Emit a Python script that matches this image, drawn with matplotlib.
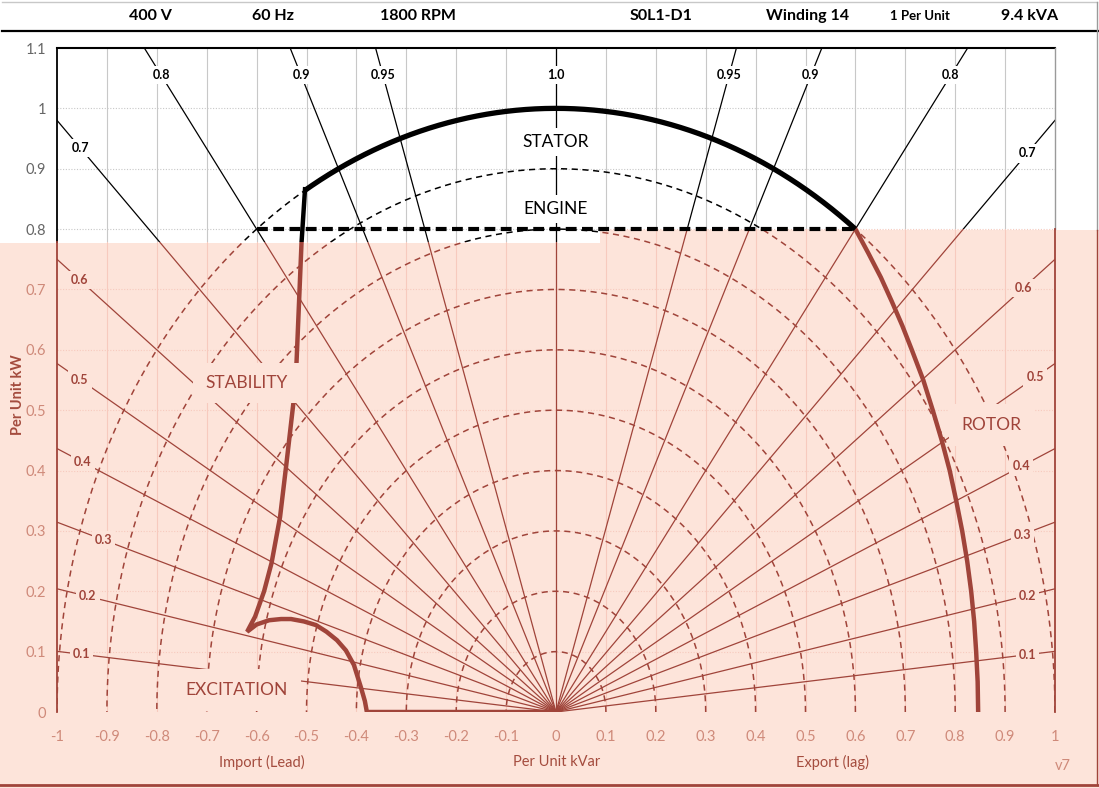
import numpy as np
import matplotlib
matplotlib.use('Agg')
import matplotlib.pyplot as plt
from matplotlib.patches import Polygon
from matplotlib.lines import Line2D

plt.rcParams['font.family'] = ['Lato', 'DejaVu Sans']

# ---- data ----
header_items = ['400 V', '60 Hz', '1800 RPM', 'S0L1-D1', 'Winding 14', '1 Per Unit', '9.4 kVA']
pf_values = [0.1, 0.2, 0.3, 0.4, 0.5, 0.6, 0.7, 0.8, 0.9, 0.95, 1.0]
pf_labels = ['0.1', '0.2', '0.3', '0.4', '0.5', '0.6', '0.7', '0.8', '0.9', '0.95', '1.0']
circle_radii = [0.1, 0.2, 0.3, 0.4, 0.5, 0.6, 0.7, 0.8, 0.9, 1.0]
stator_radius = 1.0
engine_kw = 0.8
engine_kvar = [-0.6, 0.6]

stability_kvar = [-0.503, -0.510, -0.520, -0.525, -0.540, -0.553, -0.570, -0.585, -0.603, -0.619,
                  -0.600, -0.575, -0.551, -0.531, -0.505, -0.481, -0.460, -0.439, -0.421, -0.405,
                  -0.391, -0.383, -0.379, 0.0]
stability_kw = [0.866, 0.777, 0.579, 0.521, 0.413, 0.323, 0.247, 0.200, 0.158, 0.133,
                0.145, 0.152, 0.154, 0.154, 0.150, 0.144, 0.133, 0.119, 0.102, 0.078,
                0.041, 0.018, 0.0, 0.0]

rotor_kvar = [0.600, 0.626, 0.651, 0.673, 0.694, 0.713, 0.736, 0.755, 0.773, 0.789,
              0.802, 0.814, 0.824, 0.832, 0.838, 0.842, 0.845, 0.846]
rotor_kw = [0.80, 0.76, 0.72, 0.68, 0.64, 0.60, 0.55, 0.50, 0.45, 0.40,
            0.35, 0.30, 0.25, 0.20, 0.15, 0.10, 0.05, 0.0]

x_ticks = np.round(np.arange(-10, 11) / 10, 1)
y_ticks = np.round(np.arange(0, 12) / 10, 1)

# ---- style ----
RED = '#a0443a'
PINK = '#fde4da'
TICK_RED = '#cf8a7a'
LABEL_RED = '#a44c3e'
GRID_TOP = '#c8c8c8'
GRID_LOW = '#f7cabe'
PINK_TOP_LEFT = 0.778   # pink band top (kW) left of the step
PINK_TOP_RIGHT = 0.8
STEP_X = 0.088

fig = plt.figure(figsize=(10.99, 7.88), dpi=100)
ax = fig.add_axes([57 / 1099, 1 - 712 / 788, 998 / 1099, 664 / 788])
ax.set_facecolor('none')

# pink band behind the lower part of the figure
fy1 = 1 - 243 / 788
fy2 = 1 - 230 / 788
fx = 600 / 1099
fig.add_artist(Polygon([(0, 0), (1, 0), (1, fy2), (fx, fy2), (fx, fy1), (0, fy1)],
                       closed=True, transform=fig.transFigure, facecolor=PINK,
                       edgecolor='none', zorder=-5))

lower_clip = Polygon([(-1.3, -0.3), (1.3, -0.3), (1.3, PINK_TOP_RIGHT), (STEP_X, PINK_TOP_RIGHT),
                      (STEP_X, PINK_TOP_LEFT), (-1.3, PINK_TOP_LEFT)], transform=ax.transData)
upper_clip = Polygon([(-1.3, PINK_TOP_LEFT), (STEP_X, PINK_TOP_LEFT), (STEP_X, PINK_TOP_RIGHT),
                      (1.3, PINK_TOP_RIGHT), (1.3, 1.5), (-1.3, 1.5)], transform=ax.transData)


def two_tone(x, y, top_color, low_color, **kw):
    """Draw a line black above the pink band and red inside it."""
    for color, clip in ((top_color, upper_clip), (low_color, lower_clip)):
        ln, = ax.plot(x, y, color=color, **kw)
        ln.set_clip_path(clip)


# grid
for xv in x_ticks[1:-1]:
    two_tone([xv, xv], [0, 1.1], GRID_TOP, GRID_LOW, lw=0.8, zorder=0.5)
for yv in y_ticks[1:-1]:
    two_tone([-1, 1], [yv, yv], GRID_TOP, GRID_LOW, lw=0.8, ls=(0, (1, 1.5)), zorder=0.5)

# kVA circles
theta = np.linspace(0, np.pi, 400)
for r in circle_radii:
    two_tone(r * np.cos(theta), r * np.sin(theta), 'black', RED, lw=1.1,
             ls=(0, (4, 3)), zorder=1)

# power factor rays
for pf in pf_values:
    s = np.sqrt(1 - pf ** 2)
    for side in (-1, 1):
        if pf == 1.0 and side == -1:
            continue
        two_tone([0, side * s * 2], [0, pf * 2], 'black', RED, lw=0.9, zorder=1.5)

# power factor labels
side_x_left = {0.1: -0.951, 0.2: -0.938, 0.3: -0.907, 0.4: -0.948, 0.5: -0.954, 0.6: -0.954, 0.7: -0.953}
side_x_right = {0.1: 0.945, 0.2: 0.945, 0.3: 0.935, 0.4: 0.932, 0.5: 0.96, 0.6: 0.936, 0.7: 0.944}
for pf, lab in zip(pf_values, pf_labels):
    s = np.sqrt(1 - pf ** 2)
    pts = []
    if pf <= 0.7:
        for xl in (side_x_left[pf], side_x_right[pf]):
            pts.append((xl, abs(xl) * pf / s))
    else:
        yl = 1.055
        for side in ((-1, 1) if pf < 1.0 else (1,)):
            pts.append((side * yl * s / pf, yl))
    for px, py in pts:
        in_pink = py < PINK_TOP_LEFT
        ax.text(px, py, lab, ha='center', va='center', fontsize=9, fontweight='bold',
                color=RED if in_pink else 'black', zorder=6,
                bbox=dict(boxstyle='square,pad=0.25', fc=PINK if in_pink else 'white', ec='none'))

# stator arc
a_start = np.arccos(-0.503 / stator_radius)
a_end = np.arccos(0.6 / stator_radius)
arc = np.linspace(a_end, a_start, 300)
ax.plot(stator_radius * np.cos(arc), stator_radius * np.sin(arc), color='black', lw=3.8,
        solid_capstyle='butt', zorder=4)

# engine limit
ax.plot(engine_kvar, [engine_kw, engine_kw], color='black', lw=3.0, ls=(0, (2.6, 1.3)), zorder=4)

# stability / excitation limit
two_tone(stability_kvar, stability_kw, 'black', RED, lw=3.2, solid_joinstyle='miter', zorder=3)

# rotor limit
ax.plot(rotor_kvar, rotor_kw, color=RED, lw=3.2, zorder=3)

# region labels
ax.text(0, 0.944, 'STATOR', ha='center', va='center', fontsize=12.5, color='black', zorder=6,
        bbox=dict(boxstyle='square,pad=0.35', fc='white', ec='none'))
ax.text(0, 0.833, 'ENGINE', ha='center', va='center', fontsize=12.5, color='black', zorder=6,
        bbox=dict(boxstyle='square,pad=0.35', fc='white', ec='none'))
ax.text(-0.62, 0.545, 'STABILITY', ha='center', va='center', fontsize=12.5, color=RED, zorder=6,
        bbox=dict(boxstyle='square,pad=0.7', fc=PINK, ec='none'))
ax.text(-0.64, 0.036, 'EXCITATION', ha='center', va='center', fontsize=12.5, color=RED, zorder=6,
        bbox=dict(boxstyle='square,pad=0.75', fc=PINK, ec='none'))
ax.text(0.873, 0.475, 'ROTOR', ha='center', va='center', fontsize=12.5, color=RED, zorder=6,
        bbox=dict(boxstyle='square,pad=0.75', fc=PINK, ec='none'))

# frame
for s in ax.spines.values():
    s.set_visible(False)
ax.plot([-1, 1], [1.1, 1.1], color='black', lw=1.5, clip_on=False, zorder=5)
ax.plot([-1, -1], [PINK_TOP_LEFT, 1.1], color='black', lw=1.3, clip_on=False, zorder=5)
ax.plot([-1, -1], [0, PINK_TOP_LEFT], color=RED, lw=1.3, clip_on=False, zorder=5)
ax.plot([1, 1], [PINK_TOP_RIGHT, 1.1], color='#9a9a9a', lw=1.0, clip_on=False, zorder=5)
ax.plot([1, 1], [0, PINK_TOP_RIGHT], color=RED, lw=1.3, clip_on=False, zorder=5)

ax.set_xlim(-1, 1)
ax.set_ylim(0, 1.1)
ax.set_xticks(x_ticks, [f'{v:g}' for v in x_ticks])
ax.set_yticks(y_ticks, [f'{v:g}' for v in y_ticks])
ax.tick_params(axis='both', length=0, labelsize=10.5)
ax.tick_params(axis='x', pad=13, labelcolor=TICK_RED)
ax.tick_params(axis='y', pad=8)
for v, lab in zip(y_ticks, ax.get_yticklabels()):
    lab.set_color('#666666' if v > PINK_TOP_LEFT else TICK_RED)

# axis titles
fig.text(18 / 1099, 1 - 395 / 788, 'Per Unit kW', rotation=90, ha='center', va='center',
         fontsize=10.5, fontweight='bold', color=LABEL_RED)
fig.text(262 / 1099, 1 - 762 / 788, 'Import (Lead)', ha='center', va='center', fontsize=10.5, color=LABEL_RED)
fig.text(557 / 1099, 1 - 762 / 788, 'Per Unit kVar', ha='center', va='center', fontsize=10.5, color=LABEL_RED)
fig.text(832 / 1099, 1 - 762 / 788, 'Export (lag)', ha='center', va='center', fontsize=10.5, color=LABEL_RED)
fig.text(1063 / 1099, 1 - 766 / 788, 'v7', ha='center', va='center', fontsize=10.5, color=TICK_RED)

# header band
header_px = [150, 273, 418, 661, 808, 920, 1030]
for txt, xp in zip(header_items, header_px):
    fig.text(xp / 1099, 1 - 16 / 788, txt, ha='center', va='center', fontweight='bold',
             fontsize=9.5 if txt == '1 Per Unit' else 11.5, color='black')
fig.add_artist(Line2D([2 / 1099, 1], [1 - 31 / 788] * 2, color='black', lw=1.6,
                      transform=fig.transFigure))

# outer border
fig.add_artist(Line2D([2 / 1099, 1097 / 1099], [1 - 2 / 788] * 2, color='#c8c8c8', lw=1.0,
                      transform=fig.transFigure))
fig.add_artist(Line2D([1097 / 1099] * 2, [fy2, 1 - 2 / 788], color='#9a9a9a', lw=1.0,
                      transform=fig.transFigure))
fig.add_artist(Line2D([1097 / 1099] * 2, [3 / 788, fy2], color=RED, lw=1.0,
                      transform=fig.transFigure))
fig.add_artist(Line2D([0, 1], [3 / 788] * 2, color=RED, lw=2.0, transform=fig.transFigure))

fig.savefig('out.png', dpi=100)
